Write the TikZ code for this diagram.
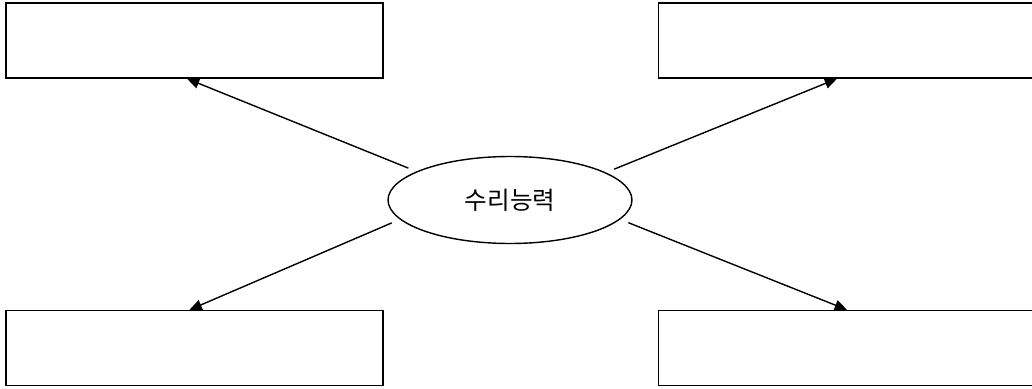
\documentclass[tikz,border=0pt]{standalone}
\usepackage{fontspec}
\usepackage{tikz}
\usetikzlibrary{positioning,shapes.geometric,arrows.meta}
\newfontfamily\kofont{Noto Sans CJK KR}

\begin{document}
\begin{tikzpicture}[x=0.02cm,y=-0.02cm,
		box/.style={draw, line width=0.8pt, inner sep=0pt, minimum width=7.54cm, minimum height=1.5cm},
		hub/.style={draw, ellipse, line width=0.8pt, inner sep=0pt, minimum width=4.88cm, minimum height=1.74cm, font=\kofont\fontsize{14}{16}\selectfont},
		link/.style={line width=0.8pt, -{Triangle[length=7pt,width=6pt]}, shorten <=5pt}]
		\useasboundingbox (0,0) rectangle (1032,389);
		%Boxes around the centre
		\node[box] (tl) at (194.5,40.5) {};
		\node[box] (tr) at (847,40.5) {};
		\node[box] (bl) at (194.5,348) {};
		\node[box] (br) at (847,348) {};
		\node[hub] (ell) at (510,200) {수리능력};
		\draw[link] (ell.163) -- ([xshift=-0.15cm]tl.south);
		\draw[link] (ell.16) -- ([xshift=-0.2cm]tr.south);
		\draw[link] (ell.190) -- ([xshift=-0.1cm]bl.north);
		\draw[link] (ell.350) -- (br.north);
\end{tikzpicture}
\end{document}
